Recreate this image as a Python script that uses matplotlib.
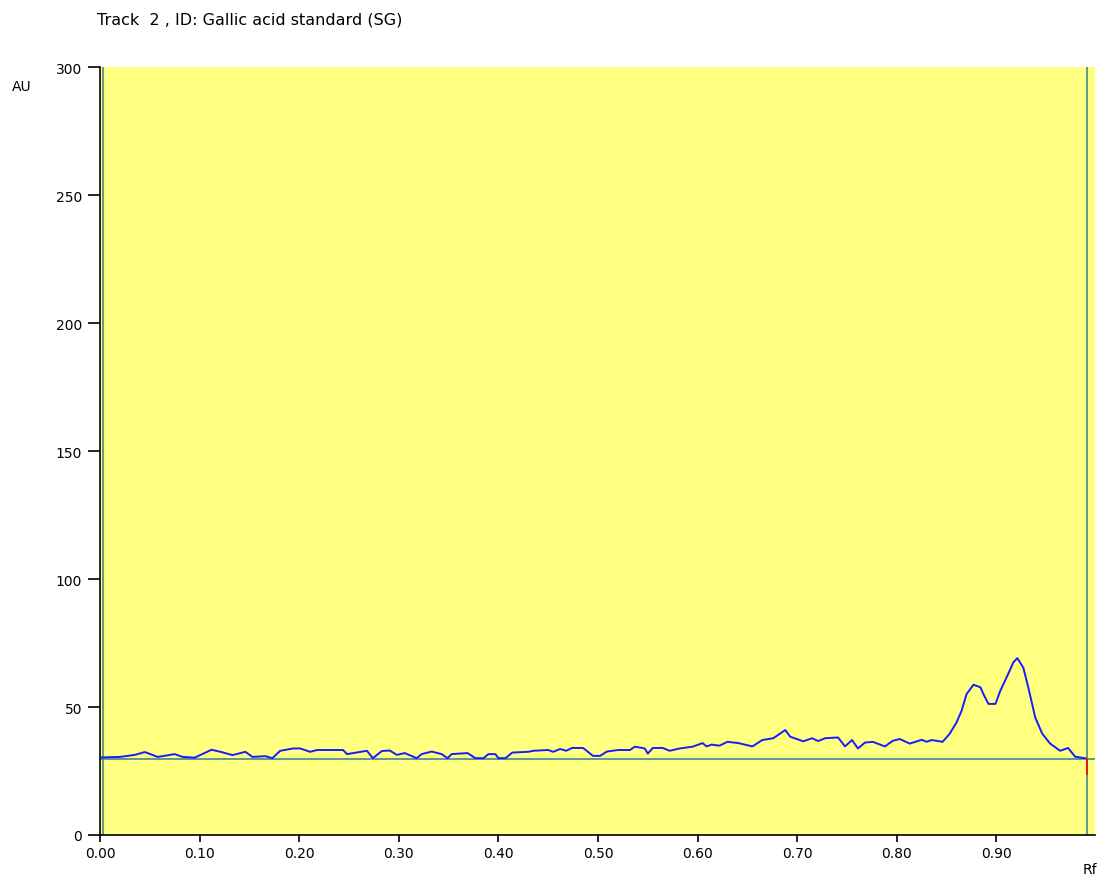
import numpy as np
import matplotlib.pyplot as plt

plt.rcParams['font.family'] = ['DejaVu Sans']

# densitogram trace: Rf position and absorbance (AU)
rf = [0.002, 0.020, 0.035, 0.045, 0.058, 0.075, 0.083, 0.095, 0.112, 0.122,
      0.133, 0.146, 0.153, 0.166, 0.173, 0.181, 0.194, 0.201, 0.211, 0.218,
      0.244, 0.248, 0.268, 0.274, 0.283, 0.291, 0.298, 0.306, 0.318, 0.323,
      0.333, 0.343, 0.349, 0.353, 0.369, 0.377, 0.385, 0.390, 0.397, 0.400,
      0.407, 0.414, 0.430, 0.435, 0.450, 0.455, 0.462, 0.468, 0.474, 0.485,
      0.495, 0.502, 0.509, 0.520, 0.532, 0.537, 0.547, 0.550, 0.555, 0.565,
      0.572, 0.582, 0.595, 0.605, 0.609, 0.614, 0.622, 0.630, 0.641, 0.655,
      0.665, 0.676, 0.688, 0.693, 0.706, 0.715, 0.721, 0.728, 0.741, 0.748,
      0.755, 0.761, 0.768, 0.776, 0.788, 0.796, 0.803, 0.813, 0.825, 0.830,
      0.835, 0.846, 0.853, 0.860, 0.865, 0.870, 0.877, 0.884, 0.887, 0.892,
      0.899, 0.904, 0.911, 0.917, 0.921, 0.927, 0.932, 0.939, 0.946, 0.954,
      0.964, 0.972, 0.979, 0.989]
au = [30.3, 30.5, 31.3, 32.4, 30.5, 31.6, 30.5, 30.2, 33.3, 32.4,
      31.2, 32.5, 30.5, 30.8, 30.0, 32.9, 33.8, 33.8, 32.5, 33.2,
      33.2, 31.6, 32.9, 30.0, 32.8, 33.0, 31.3, 32.0, 30.0, 31.6,
      32.6, 31.6, 30.0, 31.6, 32.0, 30.0, 30.0, 31.6, 31.6, 30.0,
      30.0, 32.2, 32.5, 32.9, 33.2, 32.5, 33.6, 32.9, 34.0, 34.0,
      30.9, 30.9, 32.6, 33.2, 33.2, 34.5, 33.8, 31.8, 34.0, 34.0,
      32.9, 33.8, 34.5, 35.9, 34.6, 35.3, 34.9, 36.4, 35.9, 34.6,
      37.1, 37.8, 41.0, 38.4, 36.6, 37.8, 36.7, 37.8, 38.1, 34.6,
      37.1, 33.8, 36.1, 36.4, 34.6, 36.8, 37.5, 35.7, 37.2, 36.4,
      37.1, 36.4, 39.5, 44.0, 48.5, 55.0, 58.7, 57.7, 55.0, 51.2,
      51.2, 56.4, 62.2, 67.4, 69.1, 65.4, 57.7, 45.9, 39.6, 35.7,
      32.9, 34.0, 30.6, 30.0]

baseline = 29.7
rf_start, rf_end = 0.003, 0.991

fig = plt.figure(figsize=(11, 8.78), dpi=100)
ax = fig.add_axes([100 / 1100, 1 - 836 / 878, 995 / 1100, 768 / 878])
ax.set_facecolor('#ffff80')

ax.plot(rf, au, color='#1a1aff', lw=1.4, zorder=3)
ax.axhline(baseline, color='#3f8a94', lw=1.2, zorder=2)
ax.axvline(rf_start, color='#3f8a94', lw=1.2, zorder=2)
ax.axvline(rf_end, color='#3f8a94', lw=1.2, zorder=2)
ax.plot([rf_end, rf_end], [baseline, baseline - 6], color='red', lw=1.2, zorder=4)

ax.set_xlim(0, 0.999)
ax.set_ylim(0, 300)
ax.set_xticks(np.arange(0, 0.91, 0.1))
ax.set_xticklabels([f'{v:.2f}' for v in np.arange(0, 0.91, 0.1)])
ax.set_yticks([0, 50, 100, 150, 200, 250, 300])

for s in ['top', 'right']:
    ax.spines[s].set_visible(False)
ax.spines['left'].set_linewidth(1.2)
ax.spines['bottom'].set_linewidth(1.2)
ax.tick_params(axis='y', length=9, width=1.2, labelsize=10, pad=4)
ax.tick_params(axis='x', length=5, width=1.2, labelsize=10, pad=3)

fig.text(12 / 1100, 1 - 87 / 878, 'AU', fontsize=10, va='center', ha='left')
fig.text(1097 / 1100, 1 - 870 / 878, 'Rf', fontsize=10, va='center', ha='right')
fig.text(97 / 1100, 1 - 20 / 878, 'Track  2 , ID: Gallic acid standard (SG)',
         fontsize=11.5, va='center', ha='left')

fig.savefig('out.png', dpi=100)
